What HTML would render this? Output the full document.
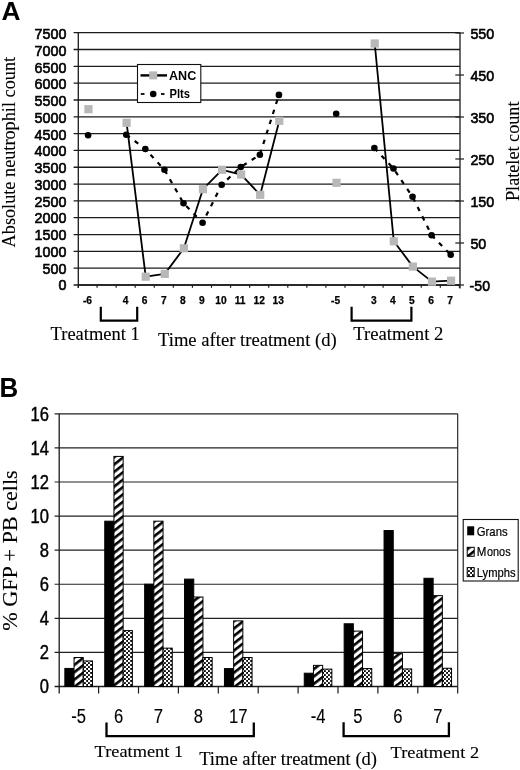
<!DOCTYPE html>
<html><head><meta charset="utf-8"><title>Figure</title>
<style>
html,body{margin:0;padding:0;background:#fff;}
body{width:520px;height:770px;overflow:hidden;font-family:"Liberation Sans", sans-serif;}
svg{display:block;filter:grayscale(1);}
</style></head>
<body>
<svg width="520" height="770" viewBox="0 0 520 770">
<rect width="520" height="770" fill="#fff"/>
<line x1="73.6" y1="32.7" x2="460" y2="32.7" stroke="#1c1c1c" stroke-width="1.3" />
<line x1="73.6" y1="49.52" x2="460" y2="49.52" stroke="#1c1c1c" stroke-width="1.3" />
<line x1="73.6" y1="66.34" x2="460" y2="66.34" stroke="#1c1c1c" stroke-width="1.3" />
<line x1="73.6" y1="83.16" x2="460" y2="83.16" stroke="#1c1c1c" stroke-width="1.3" />
<line x1="73.6" y1="99.98" x2="460" y2="99.98" stroke="#1c1c1c" stroke-width="1.3" />
<line x1="73.6" y1="116.8" x2="460" y2="116.8" stroke="#1c1c1c" stroke-width="1.3" />
<line x1="73.6" y1="133.62" x2="460" y2="133.62" stroke="#1c1c1c" stroke-width="1.3" />
<line x1="73.6" y1="150.44" x2="460" y2="150.44" stroke="#1c1c1c" stroke-width="1.3" />
<line x1="73.6" y1="167.26" x2="460" y2="167.26" stroke="#1c1c1c" stroke-width="1.3" />
<line x1="73.6" y1="184.08" x2="460" y2="184.08" stroke="#1c1c1c" stroke-width="1.3" />
<line x1="73.6" y1="200.9" x2="460" y2="200.9" stroke="#1c1c1c" stroke-width="1.3" />
<line x1="73.6" y1="217.72" x2="460" y2="217.72" stroke="#1c1c1c" stroke-width="1.3" />
<line x1="73.6" y1="234.54" x2="460" y2="234.54" stroke="#1c1c1c" stroke-width="1.3" />
<line x1="73.6" y1="251.36" x2="460" y2="251.36" stroke="#1c1c1c" stroke-width="1.3" />
<line x1="73.6" y1="268.18" x2="460" y2="268.18" stroke="#1c1c1c" stroke-width="1.3" />
<line x1="73.6" y1="285" x2="460" y2="285" stroke="#1c1c1c" stroke-width="1.3" />
<line x1="455.3" y1="285" x2="464" y2="285" stroke="#1c1c1c" stroke-width="1.2" />
<line x1="455.3" y1="243" x2="464" y2="243" stroke="#1c1c1c" stroke-width="1.2" />
<line x1="455.3" y1="201" x2="464" y2="201" stroke="#1c1c1c" stroke-width="1.2" />
<line x1="455.3" y1="159" x2="464" y2="159" stroke="#1c1c1c" stroke-width="1.2" />
<line x1="455.3" y1="117" x2="464" y2="117" stroke="#1c1c1c" stroke-width="1.2" />
<line x1="455.3" y1="75" x2="464" y2="75" stroke="#1c1c1c" stroke-width="1.2" />
<line x1="455.3" y1="33" x2="464" y2="33" stroke="#1c1c1c" stroke-width="1.2" />
<line x1="78.3" y1="32.7" x2="78.3" y2="288" stroke="#1c1c1c" stroke-width="1.3" />
<line x1="460" y1="32.7" x2="460" y2="288.5" stroke="#1c1c1c" stroke-width="1.3" />
<line x1="78.3" y1="285" x2="460" y2="285" stroke="#1c1c1c" stroke-width="1.3" />
<line x1="78.3" y1="285" x2="78.3" y2="287.8" stroke="#1c1c1c" stroke-width="1.2" />
<line x1="97.07" y1="285" x2="97.07" y2="287.8" stroke="#1c1c1c" stroke-width="1.2" />
<line x1="116.14" y1="285" x2="116.14" y2="287.8" stroke="#1c1c1c" stroke-width="1.2" />
<line x1="135.21" y1="285" x2="135.21" y2="287.8" stroke="#1c1c1c" stroke-width="1.2" />
<line x1="154.28" y1="285" x2="154.28" y2="287.8" stroke="#1c1c1c" stroke-width="1.2" />
<line x1="173.35" y1="285" x2="173.35" y2="287.8" stroke="#1c1c1c" stroke-width="1.2" />
<line x1="192.42" y1="285" x2="192.42" y2="287.8" stroke="#1c1c1c" stroke-width="1.2" />
<line x1="211.49" y1="285" x2="211.49" y2="287.8" stroke="#1c1c1c" stroke-width="1.2" />
<line x1="230.56" y1="285" x2="230.56" y2="287.8" stroke="#1c1c1c" stroke-width="1.2" />
<line x1="249.63" y1="285" x2="249.63" y2="287.8" stroke="#1c1c1c" stroke-width="1.2" />
<line x1="268.7" y1="285" x2="268.7" y2="287.8" stroke="#1c1c1c" stroke-width="1.2" />
<line x1="287.77" y1="285" x2="287.77" y2="287.8" stroke="#1c1c1c" stroke-width="1.2" />
<line x1="306.84" y1="285" x2="306.84" y2="287.8" stroke="#1c1c1c" stroke-width="1.2" />
<line x1="325.91" y1="285" x2="325.91" y2="287.8" stroke="#1c1c1c" stroke-width="1.2" />
<line x1="344.98" y1="285" x2="344.98" y2="287.8" stroke="#1c1c1c" stroke-width="1.2" />
<line x1="364.05" y1="285" x2="364.05" y2="287.8" stroke="#1c1c1c" stroke-width="1.2" />
<line x1="383.12" y1="285" x2="383.12" y2="287.8" stroke="#1c1c1c" stroke-width="1.2" />
<line x1="402.19" y1="285" x2="402.19" y2="287.8" stroke="#1c1c1c" stroke-width="1.2" />
<line x1="421.26" y1="285" x2="421.26" y2="287.8" stroke="#1c1c1c" stroke-width="1.2" />
<line x1="440.33" y1="285" x2="440.33" y2="287.8" stroke="#1c1c1c" stroke-width="1.2" />
<line x1="459.4" y1="285" x2="459.4" y2="287.8" stroke="#1c1c1c" stroke-width="1.2" />
<text x="66.4" y="39.1" font-family='"Liberation Sans", sans-serif' font-size="15.4" font-weight="normal" text-anchor="end" fill="#000" textLength="31.8" lengthAdjust="spacingAndGlyphs" stroke="#000" stroke-width="0.65">7500</text>
<text x="66.4" y="55.85" font-family='"Liberation Sans", sans-serif' font-size="15.4" font-weight="normal" text-anchor="end" fill="#000" textLength="31.8" lengthAdjust="spacingAndGlyphs" stroke="#000" stroke-width="0.65">7000</text>
<text x="66.4" y="72.6" font-family='"Liberation Sans", sans-serif' font-size="15.4" font-weight="normal" text-anchor="end" fill="#000" textLength="31.8" lengthAdjust="spacingAndGlyphs" stroke="#000" stroke-width="0.65">6500</text>
<text x="66.4" y="89.35" font-family='"Liberation Sans", sans-serif' font-size="15.4" font-weight="normal" text-anchor="end" fill="#000" textLength="31.8" lengthAdjust="spacingAndGlyphs" stroke="#000" stroke-width="0.65">6000</text>
<text x="66.4" y="106.1" font-family='"Liberation Sans", sans-serif' font-size="15.4" font-weight="normal" text-anchor="end" fill="#000" textLength="31.8" lengthAdjust="spacingAndGlyphs" stroke="#000" stroke-width="0.65">5500</text>
<text x="66.4" y="122.85" font-family='"Liberation Sans", sans-serif' font-size="15.4" font-weight="normal" text-anchor="end" fill="#000" textLength="31.8" lengthAdjust="spacingAndGlyphs" stroke="#000" stroke-width="0.65">5000</text>
<text x="66.4" y="139.6" font-family='"Liberation Sans", sans-serif' font-size="15.4" font-weight="normal" text-anchor="end" fill="#000" textLength="31.8" lengthAdjust="spacingAndGlyphs" stroke="#000" stroke-width="0.65">4500</text>
<text x="66.4" y="156.35" font-family='"Liberation Sans", sans-serif' font-size="15.4" font-weight="normal" text-anchor="end" fill="#000" textLength="31.8" lengthAdjust="spacingAndGlyphs" stroke="#000" stroke-width="0.65">4000</text>
<text x="66.4" y="173.1" font-family='"Liberation Sans", sans-serif' font-size="15.4" font-weight="normal" text-anchor="end" fill="#000" textLength="31.8" lengthAdjust="spacingAndGlyphs" stroke="#000" stroke-width="0.65">3500</text>
<text x="66.4" y="189.85" font-family='"Liberation Sans", sans-serif' font-size="15.4" font-weight="normal" text-anchor="end" fill="#000" textLength="31.8" lengthAdjust="spacingAndGlyphs" stroke="#000" stroke-width="0.65">3000</text>
<text x="66.4" y="206.6" font-family='"Liberation Sans", sans-serif' font-size="15.4" font-weight="normal" text-anchor="end" fill="#000" textLength="31.8" lengthAdjust="spacingAndGlyphs" stroke="#000" stroke-width="0.65">2500</text>
<text x="66.4" y="223.35" font-family='"Liberation Sans", sans-serif' font-size="15.4" font-weight="normal" text-anchor="end" fill="#000" textLength="31.8" lengthAdjust="spacingAndGlyphs" stroke="#000" stroke-width="0.65">2000</text>
<text x="66.4" y="240.1" font-family='"Liberation Sans", sans-serif' font-size="15.4" font-weight="normal" text-anchor="end" fill="#000" textLength="31.8" lengthAdjust="spacingAndGlyphs" stroke="#000" stroke-width="0.65">1500</text>
<text x="66.4" y="256.85" font-family='"Liberation Sans", sans-serif' font-size="15.4" font-weight="normal" text-anchor="end" fill="#000" textLength="31.8" lengthAdjust="spacingAndGlyphs" stroke="#000" stroke-width="0.65">1000</text>
<text x="66.4" y="273.6" font-family='"Liberation Sans", sans-serif' font-size="15.4" font-weight="normal" text-anchor="end" fill="#000" textLength="23.85" lengthAdjust="spacingAndGlyphs" stroke="#000" stroke-width="0.65">500</text>
<text x="66.4" y="290.35" font-family='"Liberation Sans", sans-serif' font-size="15.4" font-weight="normal" text-anchor="end" fill="#000" textLength="7.95" lengthAdjust="spacingAndGlyphs" stroke="#000" stroke-width="0.65">0</text>
<text x="470.4" y="39.2" font-family='"Liberation Sans", sans-serif' font-size="15.4" font-weight="normal" text-anchor="start" fill="#000" textLength="23.85" lengthAdjust="spacingAndGlyphs" stroke="#000" stroke-width="0.65">550</text>
<text x="470.4" y="81.1" font-family='"Liberation Sans", sans-serif' font-size="15.4" font-weight="normal" text-anchor="start" fill="#000" textLength="23.85" lengthAdjust="spacingAndGlyphs" stroke="#000" stroke-width="0.65">450</text>
<text x="470.4" y="123" font-family='"Liberation Sans", sans-serif' font-size="15.4" font-weight="normal" text-anchor="start" fill="#000" textLength="23.85" lengthAdjust="spacingAndGlyphs" stroke="#000" stroke-width="0.65">350</text>
<text x="470.4" y="164.9" font-family='"Liberation Sans", sans-serif' font-size="15.4" font-weight="normal" text-anchor="start" fill="#000" textLength="23.85" lengthAdjust="spacingAndGlyphs" stroke="#000" stroke-width="0.65">250</text>
<text x="470.4" y="206.8" font-family='"Liberation Sans", sans-serif' font-size="15.4" font-weight="normal" text-anchor="start" fill="#000" textLength="23.85" lengthAdjust="spacingAndGlyphs" stroke="#000" stroke-width="0.65">150</text>
<text x="470.4" y="248.7" font-family='"Liberation Sans", sans-serif' font-size="15.4" font-weight="normal" text-anchor="start" fill="#000" textLength="15.9" lengthAdjust="spacingAndGlyphs" stroke="#000" stroke-width="0.65">50</text>
<text x="469.6" y="290.6" font-family='"Liberation Sans", sans-serif' font-size="15.4" font-weight="normal" text-anchor="start" fill="#000" textLength="20.4" lengthAdjust="spacingAndGlyphs" stroke="#000" stroke-width="0.65">-50</text>
<text x="87.44" y="303.6" font-family='"Liberation Sans", sans-serif' font-size="10.2" font-weight="bold" text-anchor="middle" fill="#000" stroke="#000" stroke-width="0.25">-6</text>
<text x="125.61" y="303.6" font-family='"Liberation Sans", sans-serif' font-size="10.2" font-weight="bold" text-anchor="middle" fill="#000" stroke="#000" stroke-width="0.25">4</text>
<text x="144.7" y="303.6" font-family='"Liberation Sans", sans-serif' font-size="10.2" font-weight="bold" text-anchor="middle" fill="#000" stroke="#000" stroke-width="0.25">6</text>
<text x="163.78" y="303.6" font-family='"Liberation Sans", sans-serif' font-size="10.2" font-weight="bold" text-anchor="middle" fill="#000" stroke="#000" stroke-width="0.25">7</text>
<text x="182.87" y="303.6" font-family='"Liberation Sans", sans-serif' font-size="10.2" font-weight="bold" text-anchor="middle" fill="#000" stroke="#000" stroke-width="0.25">8</text>
<text x="201.95" y="303.6" font-family='"Liberation Sans", sans-serif' font-size="10.2" font-weight="bold" text-anchor="middle" fill="#000" stroke="#000" stroke-width="0.25">9</text>
<text x="221.04" y="303.6" font-family='"Liberation Sans", sans-serif' font-size="10.2" font-weight="bold" text-anchor="middle" fill="#000" stroke="#000" stroke-width="0.25">10</text>
<text x="240.12" y="303.6" font-family='"Liberation Sans", sans-serif' font-size="10.2" font-weight="bold" text-anchor="middle" fill="#000" stroke="#000" stroke-width="0.25">11</text>
<text x="259.21" y="303.6" font-family='"Liberation Sans", sans-serif' font-size="10.2" font-weight="bold" text-anchor="middle" fill="#000" stroke="#000" stroke-width="0.25">12</text>
<text x="278.29" y="303.6" font-family='"Liberation Sans", sans-serif' font-size="10.2" font-weight="bold" text-anchor="middle" fill="#000" stroke="#000" stroke-width="0.25">13</text>
<text x="335.55" y="303.6" font-family='"Liberation Sans", sans-serif' font-size="10.2" font-weight="bold" text-anchor="middle" fill="#000" stroke="#000" stroke-width="0.25">-5</text>
<text x="373.72" y="303.6" font-family='"Liberation Sans", sans-serif' font-size="10.2" font-weight="bold" text-anchor="middle" fill="#000" stroke="#000" stroke-width="0.25">3</text>
<text x="392.8" y="303.6" font-family='"Liberation Sans", sans-serif' font-size="10.2" font-weight="bold" text-anchor="middle" fill="#000" stroke="#000" stroke-width="0.25">4</text>
<text x="411.89" y="303.6" font-family='"Liberation Sans", sans-serif' font-size="10.2" font-weight="bold" text-anchor="middle" fill="#000" stroke="#000" stroke-width="0.25">5</text>
<text x="430.97" y="303.6" font-family='"Liberation Sans", sans-serif' font-size="10.2" font-weight="bold" text-anchor="middle" fill="#000" stroke="#000" stroke-width="0.25">6</text>
<text x="450.06" y="303.6" font-family='"Liberation Sans", sans-serif' font-size="10.2" font-weight="bold" text-anchor="middle" fill="#000" stroke="#000" stroke-width="0.25">7</text>
<polyline points="126.61,122.8 145.7,276.7 164.78,273.9 183.87,248.3 202.95,189.2 222.04,169.8 241.12,174.6 260.21,194.8 279.29,120.8" fill="none" stroke="#000" stroke-width="1.8" stroke-linejoin="round"/>
<polyline points="374.72,43.5 393.8,241.3 412.89,266.6 431.97,281.6 451.06,280.7" fill="none" stroke="#000" stroke-width="1.8" stroke-linejoin="round"/>
<polyline points="126.26,134.7 145.35,149 164.43,169.8 183.52,203.2 202.6,222.8 221.69,184.7 240.77,167 259.86,154.8 278.94,94.9" fill="none" stroke="#000" stroke-width="2.2" stroke-dasharray="4.5,6"/>
<polyline points="374.37,148 393.45,168.5 412.54,196.7 431.62,235.2 450.71,254.7" fill="none" stroke="#000" stroke-width="2.2" stroke-dasharray="4.5,6"/>
<rect x="84.34" y="105.1" width="8.2" height="8.2" fill="#b8b8b8"/>
<rect x="122.51" y="118.7" width="8.2" height="8.2" fill="#b8b8b8"/>
<rect x="141.6" y="272.6" width="8.2" height="8.2" fill="#b8b8b8"/>
<rect x="160.68" y="269.8" width="8.2" height="8.2" fill="#b8b8b8"/>
<rect x="179.77" y="244.2" width="8.2" height="8.2" fill="#b8b8b8"/>
<rect x="198.85" y="185.1" width="8.2" height="8.2" fill="#b8b8b8"/>
<rect x="217.94" y="165.7" width="8.2" height="8.2" fill="#b8b8b8"/>
<rect x="237.02" y="170.5" width="8.2" height="8.2" fill="#b8b8b8"/>
<rect x="256.11" y="190.7" width="8.2" height="8.2" fill="#b8b8b8"/>
<rect x="275.19" y="116.7" width="8.2" height="8.2" fill="#b8b8b8"/>
<rect x="332.45" y="178.7" width="8.2" height="8.2" fill="#b8b8b8"/>
<rect x="370.62" y="39.4" width="8.2" height="8.2" fill="#b8b8b8"/>
<rect x="389.7" y="237.2" width="8.2" height="8.2" fill="#b8b8b8"/>
<rect x="408.79" y="262.5" width="8.2" height="8.2" fill="#b8b8b8"/>
<rect x="427.87" y="277.5" width="8.2" height="8.2" fill="#b8b8b8"/>
<rect x="446.96" y="276.6" width="8.2" height="8.2" fill="#b8b8b8"/>
<circle cx="88.09" cy="135.2" r="3.3" fill="#000"/>
<circle cx="126.26" cy="134.7" r="3.3" fill="#000"/>
<circle cx="145.35" cy="149" r="3.3" fill="#000"/>
<circle cx="164.43" cy="169.8" r="3.3" fill="#000"/>
<circle cx="183.52" cy="203.2" r="3.3" fill="#000"/>
<circle cx="202.6" cy="222.8" r="3.3" fill="#000"/>
<circle cx="221.69" cy="184.7" r="3.3" fill="#000"/>
<circle cx="240.77" cy="167" r="3.3" fill="#000"/>
<circle cx="259.86" cy="154.8" r="3.3" fill="#000"/>
<circle cx="278.94" cy="94.9" r="3.3" fill="#000"/>
<circle cx="336.2" cy="113.8" r="3.3" fill="#000"/>
<circle cx="374.37" cy="148" r="3.3" fill="#000"/>
<circle cx="393.45" cy="168.5" r="3.3" fill="#000"/>
<circle cx="412.54" cy="196.7" r="3.3" fill="#000"/>
<circle cx="431.62" cy="235.2" r="3.3" fill="#000"/>
<circle cx="450.71" cy="254.7" r="3.3" fill="#000"/>
<rect x="137.5" y="64.5" width="63.3" height="38" fill="#fff" stroke="#111" stroke-width="1.1"/>
<line x1="140.5" y1="75.4" x2="167" y2="75.4" stroke="#000" stroke-width="2.4" />
<rect x="149.2" y="71.4" width="8" height="8" fill="#b8b8b8"/>
<text x="169" y="79.6" font-family='"Liberation Sans", sans-serif' font-size="12.9" font-weight="bold" text-anchor="start" fill="#000" textLength="27.2" lengthAdjust="spacingAndGlyphs" >ANC</text>
<line x1="140.8" y1="94" x2="144.5" y2="94" stroke="#000" stroke-width="1.8" />
<line x1="161" y1="94" x2="164.5" y2="94" stroke="#000" stroke-width="1.8" />
<circle cx="153.2" cy="94" r="3.3" fill="#000"/>
<text x="169.5" y="97.7" font-family='"Liberation Sans", sans-serif' font-size="12.9" font-weight="bold" text-anchor="start" fill="#000" textLength="20.5" lengthAdjust="spacingAndGlyphs" >Plts</text>
<polyline points="100.8,306.8 100.8,320.6 137.2,320.6 137.2,306.8" fill="none" stroke="#000" stroke-width="2.2"/>
<polyline points="351.6,306.8 351.6,320.6 411.4,320.6 411.4,306.8" fill="none" stroke="#000" stroke-width="2.2"/>
<text x="50.6" y="340.2" font-family='"Liberation Serif", serif' font-size="17.9" font-weight="normal" text-anchor="start" fill="#000" textLength="89.2" lengthAdjust="spacingAndGlyphs"  stroke="#000" stroke-width="0.12">Treatment 1</text>
<text x="353.2" y="340.3" font-family='"Liberation Serif", serif' font-size="17.9" font-weight="normal" text-anchor="start" fill="#000" textLength="90.2" lengthAdjust="spacingAndGlyphs"  stroke="#000" stroke-width="0.12">Treatment 2</text>
<text x="158" y="346.3" font-family='"Liberation Serif", serif' font-size="18" font-weight="normal" text-anchor="start" fill="#000" textLength="178.7" lengthAdjust="spacingAndGlyphs"  stroke="#000" stroke-width="0.12">Time after treatment (d)</text>
<text transform="translate(15.2,247.4) rotate(-90)" font-family='"Liberation Serif", serif' font-size="18.6" textLength="190.5" lengthAdjust="spacingAndGlyphs" stroke="#000" stroke-width="0.12">Absolute neutrophil count</text>
<text transform="translate(518.6,201) rotate(-90)" font-family='"Liberation Serif", serif' font-size="18.8" textLength="99.5" lengthAdjust="spacingAndGlyphs" stroke="#000" stroke-width="0.12">Platelet count</text>
<text x="1.6" y="20.1" font-family='"Liberation Sans", sans-serif' font-size="26.3" font-weight="bold" text-anchor="start" fill="#000" >A</text>
<text x="-0.5" y="396.8" font-family='"Liberation Sans", sans-serif' font-size="26.8" font-weight="bold" text-anchor="start" fill="#000" textLength="18.7" lengthAdjust="spacingAndGlyphs" >B</text>
<defs>
<pattern id="hatch" patternUnits="userSpaceOnUse" width="5.8" height="5.8" patternTransform="rotate(52)">
<rect width="5.8" height="5.8" fill="#fff"/><rect x="0" y="0" width="2.6" height="5.8" fill="#000"/></pattern>
<pattern id="dots" patternUnits="userSpaceOnUse" width="4" height="4">
<rect width="4" height="4" fill="#000"/><circle cx="1" cy="1" r="1.32" fill="#fff"/><circle cx="3" cy="3" r="1.32" fill="#fff"/></pattern>
</defs>
<line x1="54.6" y1="413.8" x2="457.7" y2="413.8" stroke="#222" stroke-width="1.15" />
<line x1="54.6" y1="447.89" x2="457.7" y2="447.89" stroke="#222" stroke-width="1.15" />
<line x1="54.6" y1="481.98" x2="457.7" y2="481.98" stroke="#222" stroke-width="1.15" />
<line x1="54.6" y1="516.06" x2="457.7" y2="516.06" stroke="#222" stroke-width="1.15" />
<line x1="54.6" y1="550.15" x2="457.7" y2="550.15" stroke="#222" stroke-width="1.15" />
<line x1="54.6" y1="584.24" x2="457.7" y2="584.24" stroke="#222" stroke-width="1.15" />
<line x1="54.6" y1="618.33" x2="457.7" y2="618.33" stroke="#222" stroke-width="1.15" />
<line x1="54.6" y1="652.41" x2="457.7" y2="652.41" stroke="#222" stroke-width="1.15" />
<line x1="54.6" y1="686.5" x2="457.7" y2="686.5" stroke="#1c1c1c" stroke-width="1.3" />
<line x1="59.2" y1="413.8" x2="59.2" y2="693.5" stroke="#1c1c1c" stroke-width="1.3" />
<line x1="457.7" y1="413.8" x2="457.7" y2="686.5" stroke="#222" stroke-width="1.15" />
<line x1="98.6" y1="686.5" x2="98.6" y2="693.5" stroke="#1c1c1c" stroke-width="1.2" />
<line x1="138.5" y1="686.5" x2="138.5" y2="693.5" stroke="#1c1c1c" stroke-width="1.2" />
<line x1="178.4" y1="686.5" x2="178.4" y2="693.5" stroke="#1c1c1c" stroke-width="1.2" />
<line x1="218.3" y1="686.5" x2="218.3" y2="693.5" stroke="#1c1c1c" stroke-width="1.2" />
<line x1="258.2" y1="686.5" x2="258.2" y2="693.5" stroke="#1c1c1c" stroke-width="1.2" />
<line x1="298.1" y1="686.5" x2="298.1" y2="693.5" stroke="#1c1c1c" stroke-width="1.2" />
<line x1="338" y1="686.5" x2="338" y2="693.5" stroke="#1c1c1c" stroke-width="1.2" />
<line x1="377.9" y1="686.5" x2="377.9" y2="693.5" stroke="#1c1c1c" stroke-width="1.2" />
<line x1="417.8" y1="686.5" x2="417.8" y2="693.5" stroke="#1c1c1c" stroke-width="1.2" />
<line x1="457.7" y1="686.5" x2="457.7" y2="693.5" stroke="#1c1c1c" stroke-width="1.2" />
<text transform="translate(48.9,420.7) scale(0.86,1)" font-family='"Liberation Sans", sans-serif' font-size="19.3" text-anchor="end" stroke="#000" stroke-width="0.45">16</text>
<text transform="translate(48.9,454.79) scale(0.86,1)" font-family='"Liberation Sans", sans-serif' font-size="19.3" text-anchor="end" stroke="#000" stroke-width="0.45">14</text>
<text transform="translate(48.9,488.88) scale(0.86,1)" font-family='"Liberation Sans", sans-serif' font-size="19.3" text-anchor="end" stroke="#000" stroke-width="0.45">12</text>
<text transform="translate(48.9,522.96) scale(0.86,1)" font-family='"Liberation Sans", sans-serif' font-size="19.3" text-anchor="end" stroke="#000" stroke-width="0.45">10</text>
<text transform="translate(48.9,557.05) scale(0.86,1)" font-family='"Liberation Sans", sans-serif' font-size="19.3" text-anchor="end" stroke="#000" stroke-width="0.45">8</text>
<text transform="translate(48.9,591.14) scale(0.86,1)" font-family='"Liberation Sans", sans-serif' font-size="19.3" text-anchor="end" stroke="#000" stroke-width="0.45">6</text>
<text transform="translate(48.9,625.23) scale(0.86,1)" font-family='"Liberation Sans", sans-serif' font-size="19.3" text-anchor="end" stroke="#000" stroke-width="0.45">4</text>
<text transform="translate(48.9,659.31) scale(0.86,1)" font-family='"Liberation Sans", sans-serif' font-size="19.3" text-anchor="end" stroke="#000" stroke-width="0.45">2</text>
<text transform="translate(48.9,693.4) scale(0.86,1)" font-family='"Liberation Sans", sans-serif' font-size="19.3" text-anchor="end" stroke="#000" stroke-width="0.45">0</text>
<rect x="64.85" y="668.43" width="9.2" height="18.07" fill="#000" stroke="#000" stroke-width="1"/>
<rect x="74.05" y="657.53" width="9.2" height="28.97" fill="url(#hatch)" stroke="#000" stroke-width="1"/>
<rect x="83.25" y="660.93" width="9.2" height="25.57" fill="url(#dots)" stroke="#000" stroke-width="1"/>
<rect x="104.75" y="521.18" width="9.2" height="165.32" fill="#000" stroke="#000" stroke-width="1"/>
<rect x="113.95" y="456.41" width="9.2" height="230.09" fill="url(#hatch)" stroke="#000" stroke-width="1"/>
<rect x="123.15" y="630.6" width="9.2" height="55.9" fill="url(#dots)" stroke="#000" stroke-width="1"/>
<rect x="144.65" y="584.24" width="9.2" height="102.26" fill="#000" stroke="#000" stroke-width="1"/>
<rect x="153.85" y="521.18" width="9.2" height="165.32" fill="url(#hatch)" stroke="#000" stroke-width="1"/>
<rect x="163.05" y="648.15" width="9.2" height="38.35" fill="url(#dots)" stroke="#000" stroke-width="1"/>
<rect x="184.55" y="579.12" width="9.2" height="107.38" fill="#000" stroke="#000" stroke-width="1"/>
<rect x="193.75" y="597.02" width="9.2" height="89.48" fill="url(#hatch)" stroke="#000" stroke-width="1"/>
<rect x="202.95" y="657.53" width="9.2" height="28.97" fill="url(#dots)" stroke="#000" stroke-width="1"/>
<rect x="224.45" y="668.6" width="9.2" height="17.9" fill="#000" stroke="#000" stroke-width="1"/>
<rect x="233.65" y="620.88" width="9.2" height="65.62" fill="url(#hatch)" stroke="#000" stroke-width="1"/>
<rect x="242.85" y="657.53" width="9.2" height="28.97" fill="url(#dots)" stroke="#000" stroke-width="1"/>
<rect x="304.25" y="673.21" width="9.2" height="13.29" fill="#000" stroke="#000" stroke-width="1"/>
<rect x="313.45" y="665.37" width="9.2" height="21.13" fill="url(#hatch)" stroke="#000" stroke-width="1"/>
<rect x="322.65" y="669.12" width="9.2" height="17.38" fill="url(#dots)" stroke="#000" stroke-width="1"/>
<rect x="344.15" y="623.78" width="9.2" height="62.72" fill="#000" stroke="#000" stroke-width="1"/>
<rect x="353.35" y="631.11" width="9.2" height="55.39" fill="url(#hatch)" stroke="#000" stroke-width="1"/>
<rect x="362.55" y="668.6" width="9.2" height="17.9" fill="url(#dots)" stroke="#000" stroke-width="1"/>
<rect x="384.05" y="530.55" width="9.2" height="155.95" fill="#000" stroke="#000" stroke-width="1"/>
<rect x="393.25" y="653.61" width="9.2" height="32.89" fill="url(#hatch)" stroke="#000" stroke-width="1"/>
<rect x="402.45" y="668.94" width="9.2" height="17.56" fill="url(#dots)" stroke="#000" stroke-width="1"/>
<rect x="423.95" y="578.27" width="9.2" height="108.23" fill="#000" stroke="#000" stroke-width="1"/>
<rect x="433.15" y="595.66" width="9.2" height="90.84" fill="url(#hatch)" stroke="#000" stroke-width="1"/>
<rect x="442.35" y="668.26" width="9.2" height="18.24" fill="url(#dots)" stroke="#000" stroke-width="1"/>
<text transform="translate(78.65,722.5) scale(0.84,1)" font-family='"Liberation Sans", sans-serif' font-size="19.8" text-anchor="middle" stroke="#000" stroke-width="0.12">-5</text>
<text transform="translate(118.55,722.5) scale(0.84,1)" font-family='"Liberation Sans", sans-serif' font-size="19.8" text-anchor="middle" stroke="#000" stroke-width="0.12">6</text>
<text transform="translate(158.45,722.5) scale(0.84,1)" font-family='"Liberation Sans", sans-serif' font-size="19.8" text-anchor="middle" stroke="#000" stroke-width="0.12">7</text>
<text transform="translate(198.35,722.5) scale(0.84,1)" font-family='"Liberation Sans", sans-serif' font-size="19.8" text-anchor="middle" stroke="#000" stroke-width="0.12">8</text>
<text transform="translate(238.25,722.5) scale(0.84,1)" font-family='"Liberation Sans", sans-serif' font-size="19.8" text-anchor="middle" stroke="#000" stroke-width="0.12">17</text>
<text transform="translate(318.05,722.5) scale(0.84,1)" font-family='"Liberation Sans", sans-serif' font-size="19.8" text-anchor="middle" stroke="#000" stroke-width="0.12">-4</text>
<text transform="translate(357.95,722.5) scale(0.84,1)" font-family='"Liberation Sans", sans-serif' font-size="19.8" text-anchor="middle" stroke="#000" stroke-width="0.12">5</text>
<text transform="translate(397.85,722.5) scale(0.84,1)" font-family='"Liberation Sans", sans-serif' font-size="19.8" text-anchor="middle" stroke="#000" stroke-width="0.12">6</text>
<text transform="translate(437.75,722.5) scale(0.84,1)" font-family='"Liberation Sans", sans-serif' font-size="19.8" text-anchor="middle" stroke="#000" stroke-width="0.12">7</text>
<rect x="463.2" y="519.5" width="55" height="61.5" fill="#fff" stroke="#111" stroke-width="1.1"/>
<rect x="467.2" y="526.3" width="7" height="9" fill="#000"/>
<rect x="467.2" y="547.3" width="7" height="9" fill="url(#hatch)" stroke="#000" stroke-width="1"/>
<rect x="467.2" y="567.6" width="7" height="9" fill="url(#dots)" stroke="#000" stroke-width="1"/>
<text x="476.8" y="535.6" font-family='"Liberation Sans", sans-serif' font-size="12.4" font-weight="normal" text-anchor="start" fill="#000" textLength="30.8" lengthAdjust="spacingAndGlyphs" stroke="#000" stroke-width="0.2">Grans</text>
<text x="476.8" y="556.3" font-family='"Liberation Sans", sans-serif' font-size="12.4" font-weight="normal" text-anchor="start" fill="#000" textLength="9.6" lengthAdjust="spacingAndGlyphs" stroke="#000" stroke-width="0.2">M</text>
<text x="487" y="556.3" font-family='"Liberation Sans", sans-serif' font-size="12.4" font-weight="normal" text-anchor="start" fill="#000" textLength="23.6" lengthAdjust="spacingAndGlyphs" stroke="#000" stroke-width="0.2">onos</text>
<text x="476.8" y="576.8" font-family='"Liberation Sans", sans-serif' font-size="12.4" font-weight="normal" text-anchor="start" fill="#000" textLength="38.8" lengthAdjust="spacingAndGlyphs" stroke="#000" stroke-width="0.2">Lymphs</text>
<polyline points="106.5,722.6 106.5,736.1 253.8,736.1 253.8,722.6" fill="none" stroke="#000" stroke-width="2.3"/>
<polyline points="343.6,722.3 343.6,736.1 448.9,736.1 448.9,722.3" fill="none" stroke="#000" stroke-width="2.3"/>
<text x="94.6" y="757.1" font-family='"Liberation Serif", serif' font-size="16.9" font-weight="normal" text-anchor="start" fill="#000" textLength="88.6" lengthAdjust="spacingAndGlyphs"  stroke="#000" stroke-width="0.12">Treatment 1</text>
<text x="390.6" y="758.3" font-family='"Liberation Serif", serif' font-size="16.9" font-weight="normal" text-anchor="start" fill="#000" textLength="88.6" lengthAdjust="spacingAndGlyphs"  stroke="#000" stroke-width="0.12">Treatment 2</text>
<text x="199.2" y="764.5" font-family='"Liberation Serif", serif' font-size="18" font-weight="normal" text-anchor="start" fill="#000" textLength="177.8" lengthAdjust="spacingAndGlyphs"  stroke="#000" stroke-width="0.12">Time after treatment (d)</text>
<text transform="translate(17.2,630.8) rotate(-90)" font-family='"Liberation Serif", serif' font-size="22" textLength="160.5" lengthAdjust="spacingAndGlyphs" stroke="#000" stroke-width="0.12">% GFP + PB cells</text>
</svg>
</body></html>
